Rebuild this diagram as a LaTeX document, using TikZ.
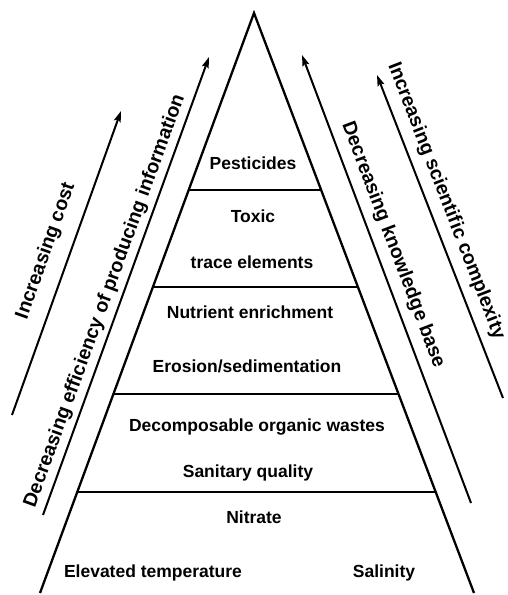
\documentclass[tikz,border=0pt]{standalone}
\usepackage{fontspec}
\setmainfont{Liberation Sans}
\usetikzlibrary{arrows.meta,calc}
\begin{document}
\begin{tikzpicture}[x=1pt,y=-1pt,
  edge/.style={line width=2.3pt},
  sep/.style={line width=1.9pt},
  arr/.style={line width=2pt,-{Stealth[length=11pt,width=7pt,inset=2pt]}},
  lab/.style={font=\fontsize{17.5}{20}\selectfont\bfseries,inner sep=0pt,anchor=base},
  rlab/.style={font=\fontsize{19.5}{22}\selectfont\bfseries,inner sep=0pt}]
\useasboundingbox (0,0) rectangle (508,595);
% pyramid
\coordinate (apex) at (254,13);
\coordinate (bl) at (40,593);
\coordinate (br) at (474,593);
\draw[edge] (bl) -- (apex) -- (br);
\foreach \t [count=\i] in {0.305,0.472,0.657,0.826} {
  \coordinate (l\i) at ($(apex)!\t!(bl)$);
  \coordinate (r\i) at ($(apex)!\t!(br)$);
  \draw[sep] (l\i) -- (r\i);
}
% level labels
\node[lab] (pest) at (253,169) {Pesticides};
\node[lab] (toxic) at (253,222) {Toxic};
\node[lab] (trace) at (252,268) {trace elements};
\node[lab] (nutr) at (250,318) {Nutrient enrichment};
\node[lab] (eros) at (247,372) {Erosion/sedimentation};
\node[lab] (decomp) at (257,431) {Decomposable organic wastes};
\node[lab] (sanit) at (248,477) {Sanitary quality};
\node[lab] (nitr) at (254,523) {Nitrate};
\node[lab] (elev) at (153,577) {Elevated temperature};
\node[lab] (salin) at (384,577) {Salinity};
% left arrows
\coordinate (c0) at (12,415);
\coordinate (c1) at (121,111);
\draw[arr] (c0) -- (c1);
\node[rlab,rotate=70.5] (cost) at (46,251) {Increasing cost};
\coordinate (e0) at (43,515);
\coordinate (e1) at (209,57);
\draw[arr] (e0) -- (e1);
\node[rlab,rotate=70] (eff) at (105,301) {Decreasing efficiency of producing information};
% right arrows
\coordinate (k0) at (471,503);
\coordinate (k1) at (302,55);
\draw[arr] (k0) -- (k1);
\node[rlab,rotate=-69.3] (know) at (393,245) {Decreasing knowledge base};
\coordinate (s0) at (503,398);
\coordinate (s1) at (377,75);
\draw[arr] (s0) -- (s1);
\node[rlab,rotate=-68.8] (sci) at (446,201) {Increasing scientific complexity};
\end{tikzpicture}
\end{document}
